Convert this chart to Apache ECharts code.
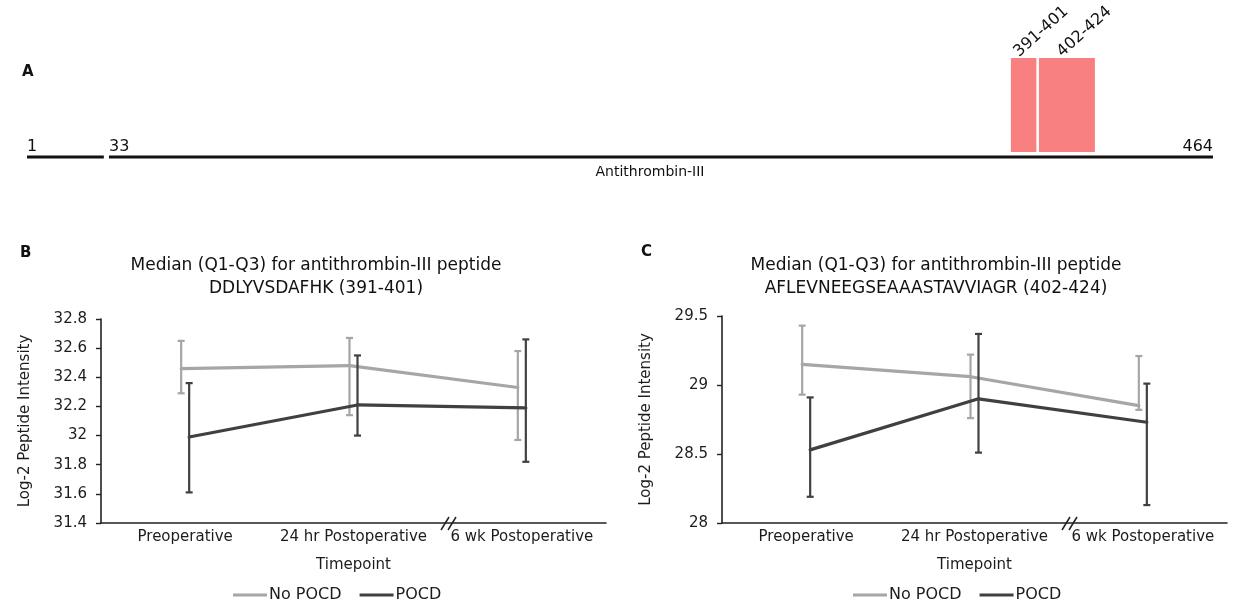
<!DOCTYPE html>
<html>
<head>
<meta charset="utf-8">
<title>Antithrombin-III peptides</title>
<script src="https://cdn.jsdelivr.net/npm/echarts@6/dist/echarts.min.js"></script>
<style>
html, body { margin: 0; padding: 0; background: #fff; }
#chart { width: 1246px; height: 607px; }
</style>
</head>
<body>
<div id="chart"></div>
<script>
// --- data ---
var timepoints = ['Preoperative', '24 hr Postoperative', '6 wk Postoperative'];
var groupNames = ['No POCD', 'POCD'];

// panel A: protein map (residue numbers)
var proteinSegments = [[1, 31], [33, 464]];
var segmentLabels = [[1, '1'], [33, '33'], [464, '464']];
var peptides = [[391, 401], [402, 424]];
var peptideNames = ['391-401', '402-424'];

// panel B: DDLYVSDAFHK (391-401)
var bNoPocdMedian = [32.46, 32.48, 32.33];
var bNoPocdQ1 = [32.29, 32.14, 31.97];
var bNoPocdQ3 = [32.65, 32.67, 32.58];
var bPocdMedian = [31.99, 32.21, 32.19];
var bPocdQ1 = [31.61, 32.00, 31.82];
var bPocdQ3 = [32.36, 32.55, 32.66];
var bAxisTicks = [31.4, 32.8, 0.2];   // min, max, step

// panel C: AFLEVNEEGSEAAASTAVVIAGR (402-424)
var cNoPocdMedian = [29.15, 29.06, 28.85];
var cNoPocdQ1 = [28.93, 28.76, 28.82];
var cNoPocdQ3 = [29.43, 29.22, 29.21];
var cPocdMedian = [28.53, 28.90, 28.73];
var cPocdQ1 = [28.19, 28.51, 28.13];
var cPocdQ3 = [28.91, 29.37, 29.01];
var cAxisTicks = [28, 29.5, 0.5];

var FONT = 'DejaVu Sans';
var TXT = '#1c1c1c';
var GREY = '#a6a6a6';
var DARK = '#404040';

var chart = echarts.init(document.getElementById('chart'), null, { renderer: 'canvas' });

// median line + Q1-Q3 bars, shifted a few px so the two groups don't overlap
function groupSeries(name, axisIdx, median, q1, q3, color, shift) {
	return {
		name: name,
		type: 'custom',
		xAxisIndex: axisIdx,
		yAxisIndex: axisIdx,
		itemStyle: { color: color },
		data: median.map(function (m, i) { return [i, m, q1[i], q3[i]]; }),
		encode: { x: 0, y: [1, 2, 3] },
		renderItem: function (params, api) {
			var i = api.value(0);
			var mid = api.coord([i, api.value(1)]);
			var lo = api.coord([i, api.value(2)]);
			var hi = api.coord([i, api.value(3)]);
			var x = mid[0] + shift;
			var bar = { stroke: color, lineWidth: 2.2 };
			var kids = [
				{ type: 'line', shape: { x1: x, y1: lo[1], x2: x, y2: hi[1] }, style: bar },
				{ type: 'line', shape: { x1: x - 3.5, y1: lo[1], x2: x + 3.5, y2: lo[1] }, style: bar },
				{ type: 'line', shape: { x1: x - 3.5, y1: hi[1], x2: x + 3.5, y2: hi[1] }, style: bar }
			];
			if (i < median.length - 1) {
				var nxt = api.coord([i + 1, median[i + 1]]);
				kids.push({
					type: 'line',
					shape: { x1: x, y1: mid[1], x2: nxt[0] + shift, y2: nxt[1] },
					style: { stroke: color, lineWidth: 3.2, lineCap: 'round' }
				});
			}
			return { type: 'group', children: kids };
		}
	};
}

function catAxis(gridIdx) {
	return {
		type: 'category', gridIndex: gridIdx, data: timepoints, boundaryGap: true,
		name: 'Timepoint', nameLocation: 'middle', nameGap: 35,
		nameTextStyle: { fontFamily: FONT, fontSize: 15, color: TXT },
		axisLine: { lineStyle: { color: '#222', width: 1.6 } },
		axisTick: { show: false },
		axisLabel: { fontFamily: FONT, fontSize: 15, color: TXT, margin: 7, interval: 0 },
		splitLine: { show: false }
	};
}

function valAxis(gridIdx, ticks) {
	return {
		type: 'value', gridIndex: gridIdx, min: ticks[0], max: ticks[1], interval: ticks[2],
		name: 'Log-2 Peptide Intensity', nameLocation: 'middle', nameGap: 68,
		nameTextStyle: { fontFamily: FONT, fontSize: 15, color: TXT },
		axisLine: { show: true, lineStyle: { color: '#222', width: 1.6 } },
		axisTick: { show: true, length: 5, lineStyle: { color: '#222', width: 1.4 } },
		axisLabel: { fontFamily: FONT, fontSize: 15, color: TXT, margin: 14 },
		splitLine: { show: false }
	};
}

function legendFor(left) {
	return {
		left: left, top: 582, orient: 'horizontal',
		data: groupNames, icon: 'rect', itemWidth: 34, itemHeight: 3, itemGap: 18,
		selectedMode: false,
		textStyle: { fontFamily: FONT, fontSize: 16, color: TXT, padding: [0, 0, 0, -3] }
	};
}

// axis break mark "//" on a category axis
function breakMark(x, y) {
	return {
		type: 'group', x: x, y: y, z: 100,
		children: [
			{ type: 'rect', shape: { x: 2, y: -2.5, width: 7, height: 5 }, style: { fill: '#fff' } },
			{ type: 'line', shape: { x1: 0, y1: 7, x2: 8, y2: -6 }, style: { stroke: '#222', lineWidth: 1.5 } },
			{ type: 'line', shape: { x1: 7, y1: 7, x2: 15, y2: -6 }, style: { stroke: '#222', lineWidth: 1.5 } }
		]
	};
}

function txt(x, y, text, size, extra) {
	var st = { text: text, font: (extra && extra.bold ? 'bold ' : '') + size + 'px ' + FONT, fill: '#111',
		textAlign: (extra && extra.align) || 'left', textVerticalAlign: 'top' };
	if (extra && extra.lineHeight) st.lineHeight = extra.lineHeight;
	return { type: 'text', x: x, y: y, style: st };
}

var option = {
	animation: false,
	backgroundColor: '#fff',
	textStyle: { fontFamily: FONT },
	grid: [
		{ left: 27, right: 33, top: 58, bottom: 450 },   // A
		{ left: 101, right: 640, top: 319, bottom: 84 }, // B
		{ left: 722, right: 19, top: 316, bottom: 84 }   // C
	],
	xAxis: [
		{ type: 'value', gridIndex: 0, min: 1, max: 464, show: false },
		catAxis(1),
		catAxis(2),
		{ type: 'value', gridIndex: 0, min: 4.4, max: 470.4, show: false }
	],
	yAxis: [
		{ type: 'value', gridIndex: 0, min: 0, max: 1, show: false },
		valAxis(1, bAxisTicks),
		valAxis(2, cAxisTicks)
	],
	legend: [legendFor(228), legendFor(848)],
	series: [
		{
			type: 'custom', xAxisIndex: 0, yAxisIndex: 0, silent: true,
			data: proteinSegments,
			renderItem: function (params, api) {
				var a = api.coord([api.value(0), 0]);
				var b = api.coord([api.value(1), 0]);
				return { type: 'line', shape: { x1: a[0], y1: a[1], x2: b[0], y2: b[1] },
					style: { stroke: '#111', lineWidth: 3.2 } };
			}
		},
		{
			type: 'custom', xAxisIndex: 0, yAxisIndex: 0, silent: true,
			data: segmentLabels,
			renderItem: function (params, api) {
				var p = api.coord([api.value(0), 0]);
				var last = params.dataIndex === segmentLabels.length - 1;
				return { type: 'text', x: p[0], y: p[1] - 2,
					style: { text: segmentLabels[params.dataIndex][1], font: '16px ' + FONT, fill: '#111',
						textAlign: last ? 'right' : 'left', textVerticalAlign: 'bottom' } };
			}
		},
		{
			type: 'custom', xAxisIndex: 3, yAxisIndex: 0, silent: true,
			data: peptides,
			renderItem: function (params, api) {
				var tl = api.coord([api.value(0), 1]);
				var br = api.coord([api.value(1), 0.05]);
				var cx = (tl[0] + br[0]) / 2;
				return { type: 'group', children: [
					{ type: 'rect', shape: { x: tl[0], y: tl[1], width: br[0] - tl[0], height: br[1] - tl[1] },
						style: { fill: '#f88080' } },
					{ type: 'text', x: cx - 2, y: tl[1] + 2, rotation: 42 * Math.PI / 180,
						style: { text: peptideNames[params.dataIndex], font: '16px ' + FONT, fill: '#111',
							textAlign: 'left', textVerticalAlign: 'bottom' } }
				] };
			}
		},
		groupSeries('No POCD', 1, bNoPocdMedian, bNoPocdQ1, bNoPocdQ3, GREY, -4),
		groupSeries('POCD', 1, bPocdMedian, bPocdQ1, bPocdQ3, DARK, 4),
		groupSeries('No POCD', 2, cNoPocdMedian, cNoPocdQ1, cNoPocdQ3, GREY, -4),
		groupSeries('POCD', 2, cPocdMedian, cPocdQ1, cPocdQ3, DARK, 4)
	],
	graphic: [
		txt(22, 65, 'A', 15, { bold: true }),
		txt(20, 246, 'B', 15, { bold: true }),
		txt(641, 245, 'C', 15, { bold: true }),
		txt(650, 165, 'Antithrombin-III', 14, { align: 'center' }),
		txt(316, 254, 'Median (Q1-Q3) for antithrombin-III peptide\nDDLYVSDAFHK (391-401)', 17, { align: 'center', lineHeight: 23 }),
		txt(936, 254, 'Median (Q1-Q3) for antithrombin-III peptide\nAFLEVNEEGSEAAASTAVVIAGR (402-424)', 17, { align: 'center', lineHeight: 23 }),
		breakMark(441, 523),
		breakMark(1062, 523)
	]
};

chart.setOption(option);
</script>
</body>
</html>
